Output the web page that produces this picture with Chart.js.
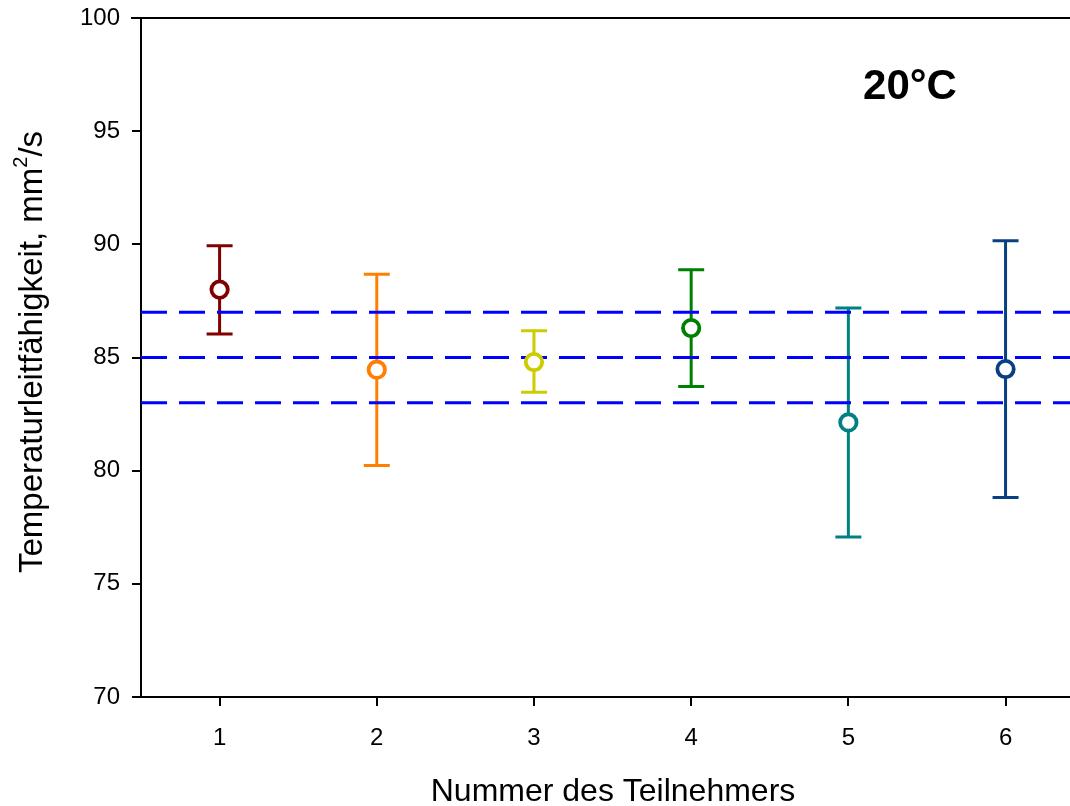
<!DOCTYPE html>
<html>
<head>
<meta charset="utf-8">
<script src="https://cdn.jsdelivr.net/npm/chart.js@4.4.1/dist/chart.umd.min.js"></script>
<style>
  html, body { margin: 0; padding: 0; background: #fff; overflow: hidden; }
  #wrap { width: 1070px; height: 806px; }
</style>
</head>
<body>
<div id="wrap"><canvas id="chart" width="1070" height="806"></canvas></div>
<script>
// Participant number, mean value and error bar ends (mm²/s)
var participants = [1, 2, 3, 4, 5, 6];
var means  = [88.0, 84.46, 84.8, 86.3, 82.13, 84.49];
var upper  = [89.94, 88.68, 86.18, 88.88, 87.19, 90.16];
var lower  = [86.04, 80.23, 83.46, 83.72, 77.07, 78.81];
var colors = ['#800000', '#FF8000', '#CCCC00', '#008000', '#008080', '#0A4080'];
var refLines = [83, 85, 87];   // dashed reference lines
var yTicks = [70, 75, 80, 85, 90, 95, 100];
var tempLabel = '20°C';
var xTitle = 'Nummer des Teilnehmers';
var yTitle = ['Temperaturleitfähigkeit, mm', '2', '/s'];   // base, superscript, rest

var FONT = 'Arial, "Liberation Sans", sans-serif';

// Scatter points built from the arrays above
var pointData = [];
for (let i = 0; i < participants.length; i++) pointData.push({x: participants[i], y: means[i]});

// One dashed dataset per reference line, running across the whole x range
var datasets = [];
refLines.forEach(function(v) {
    datasets.push({
        type: 'line',
        data: [{x: 0.5, y: v}, {x: 6.5, y: v}],
        borderColor: '#0000FF',
        borderWidth: 3,
        borderDash: [26, 12],
        pointRadius: 0,
        fill: false,
        order: 2
    });
});
datasets.push({
    type: 'scatter',
    data: pointData,
    pointStyle: 'circle',
    pointRadius: 8.2,
    pointBorderWidth: 3.8,
    pointBackgroundColor: '#ffffff',
    pointBorderColor: colors,
    pointHoverRadius: 8.2,
    order: 0
});

// no extra room for tick labels hanging past the plot edges
function noOverhang(scale) {
    scale.paddingTop = 0; scale.paddingBottom = 0;
    scale.paddingLeft = 0; scale.paddingRight = 0;
}

// Error bars (vertical line + caps) drawn under the markers, plus texts
var errorBars = {
    id: 'errorBars',
    beforeDatasetsDraw: function(chart) {
        var ctx = chart.ctx, xs = chart.scales.x, ys = chart.scales.y;
        ctx.save();
        ctx.lineWidth = 3;
        for (let i = 0; i < participants.length; i++) {
            let px = xs.getPixelForValue(participants[i]);
            let top = ys.getPixelForValue(upper[i]);
            let bot = ys.getPixelForValue(lower[i]);
            ctx.strokeStyle = colors[i];
            ctx.beginPath();
            ctx.moveTo(px, top); ctx.lineTo(px, bot);
            ctx.moveTo(px - 13, top); ctx.lineTo(px + 13, top);
            ctx.moveTo(px - 13, bot); ctx.lineTo(px + 13, bot);
            ctx.stroke();
        }
        ctx.restore();
    },
    afterDraw: function(chart) {
        var ctx = chart.ctx, area = chart.chartArea;
        ctx.save();
        // top frame line
        ctx.strokeStyle = '#000';
        ctx.lineWidth = 2;
        ctx.beginPath();
        ctx.moveTo(area.left - 10, area.top);
        ctx.lineTo(area.right, area.top);
        ctx.stroke();
        ctx.fillStyle = '#000';
        ctx.textBaseline = 'middle';
        ctx.textAlign = 'center';
        // temperature label
        ctx.font = 'bold 42px ' + FONT;
        ctx.fillText(tempLabel, 910, 87);
        // x title
        ctx.font = '32px ' + FONT;
        ctx.fillText(xTitle, 613, 792);
        // rotated y title with superscript 2
        var big = '33px ' + FONT, small = '20px ' + FONT;
        ctx.font = big;
        var w0 = ctx.measureText(yTitle[0]).width;
        var w2 = ctx.measureText(yTitle[2]).width;
        ctx.font = small;
        var w1 = ctx.measureText(yTitle[1]).width;
        var total = w0 + w1 + w2;
        ctx.translate(33, 352);
        ctx.rotate(-Math.PI / 2);
        ctx.textAlign = 'left';
        var x = -total / 2;
        ctx.font = big;
        ctx.fillText(yTitle[0], x, 0);
        ctx.font = small;
        ctx.fillText(yTitle[1], x + w0, -12);
        ctx.font = big;
        ctx.fillText(yTitle[2], x + w0 + w1, 0);
        ctx.restore();
    }
};

var chart = new Chart(document.getElementById('chart'), {
    type: 'scatter',
    data: { datasets: datasets },
    plugins: [errorBars],
    options: {
        responsive: false,
        animation: false,
        layout: { autoPadding: false, padding: { left: 0, top: 18, right: 0, bottom: 0 } },
        plugins: { legend: { display: false }, tooltip: { enabled: false } },
        scales: {
            x: {
                type: 'linear',
                min: 0.5,
                max: 6.41,
                afterBuildTicks: function(scale) {
                    scale.ticks = participants.map(function(v) { return {value: v}; });
                },
                afterFit: function(scale) { scale.height = 109; noOverhang(scale); },
                border: { display: true, color: '#000', width: 2 },
                grid: { drawOnChartArea: false, drawTicks: true, tickLength: 9, color: '#000', lineWidth: 2 },
                ticks: { color: '#000', padding: 18, font: { family: FONT, size: 24 }, maxRotation: 0 }
            },
            y: {
                min: 70,
                max: 100,
                afterBuildTicks: function(scale) {
                    scale.ticks = yTicks.map(function(v) { return {value: v}; });
                },
                afterFit: function(scale) { scale.width = 141; noOverhang(scale); },
                border: { display: true, color: '#000', width: 2 },
                grid: { drawOnChartArea: false, drawTicks: true, tickLength: 9, color: '#000', lineWidth: 2 },
                ticks: { color: '#000', padding: 12, font: { family: FONT, size: 24 } }
            }
        }
    }
});
</script>
</body>
</html>
